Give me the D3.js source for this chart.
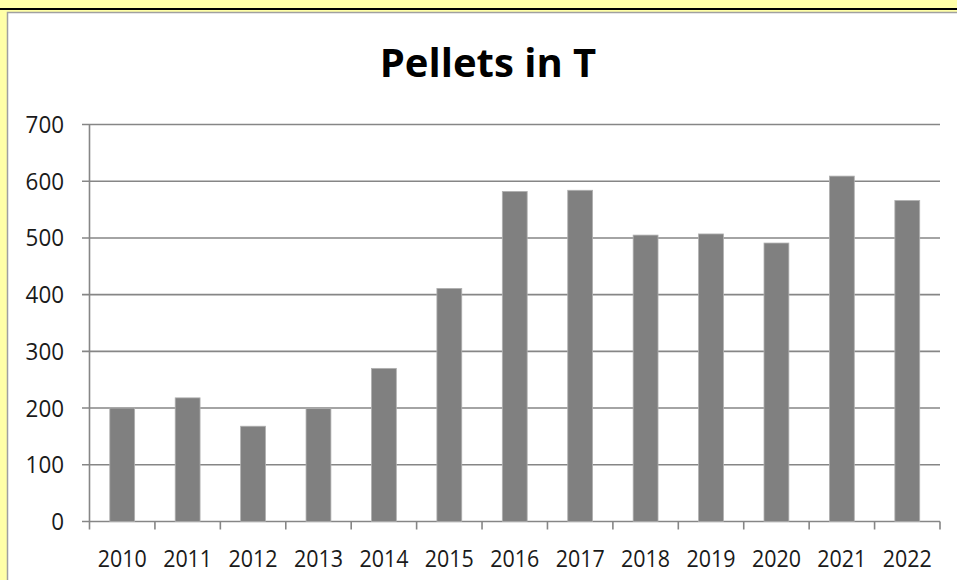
<!DOCTYPE html>
<html>
<head>
<meta charset="utf-8">
<script src="https://cdn.jsdelivr.net/npm/d3@7/dist/d3.min.js"></script>
<style>
  html, body { margin: 0; padding: 0; background: #ffffa8; }
  svg { display: block; }
</style>
</head>
<body>
<svg id="chart" width="957" height="580"></svg>
<script>
const years = ["2010","2011","2012","2013","2014","2015","2016","2017","2018","2019","2020","2021","2022"];
const values = [200, 218, 168, 199, 270, 411, 582, 584, 505, 507, 491, 609, 566];
const yTicks = [0, 100, 200, 300, 400, 500, 600, 700];
const title = "Pellets in T";

(function () {
const svg = d3.select("#chart");
const W = 957, H = 580;

// background
svg.append("rect").attr("x", 0).attr("y", 0).attr("width", W).attr("height", H).attr("fill", "#ffffa8");
svg.append("rect").attr("x", 0).attr("y", 8).attr("width", W).attr("height", 2).attr("fill", "#000");
svg.append("rect").attr("x", 7.5).attr("y", 12.5).attr("width", W).attr("height", H)
  .attr("fill", "#fff").attr("stroke", "#a0a0a0").attr("stroke-width", 1.5);

const pL = 89.5, pR = 940, pT = 124.5, pB = 521.5;

const x = d3.scaleBand().domain(years).range([pL, pR]).paddingInner(0.62).paddingOuter(0.31);
const xb = d3.scaleBand().domain(years).range([pL, pR]);
const y = d3.scaleLinear().domain([0, 700]).range([pB, pT]);

const gridColor = "#868686";

// gridlines
svg.append("g").selectAll("line").data(yTicks).join("line")
  .attr("x1", 82).attr("x2", pR)
  .attr("y1", d => y(d)).attr("y2", d => y(d))
  .attr("stroke", gridColor).attr("stroke-width", 1.6);

// y axis line
svg.append("line").attr("x1", pL).attr("x2", pL).attr("y1", pT).attr("y2", pB + 8)
  .attr("stroke", gridColor).attr("stroke-width", 1.6);

// x ticks at band boundaries
const boundaries = years.map(d => xb(d)).concat([pR]);
svg.append("g").selectAll("line").data(boundaries.slice(1)).join("line")
  .attr("x1", d => d).attr("x2", d => d)
  .attr("y1", pB).attr("y2", pB + 8)
  .attr("stroke", gridColor).attr("stroke-width", 1.6);

// bars
svg.append("g").selectAll("rect").data(values).join("rect")
  .attr("x", (d, i) => x(years[i]))
  .attr("width", x.bandwidth())
  .attr("y", d => y(d))
  .attr("height", d => y(0) - y(d))
  .attr("fill", "#808080")
  .attr("stroke", "#b0b0b0").attr("stroke-width", 0.8);

// y labels
svg.append("g").selectAll("text").data(yTicks).join("text")
  .attr("x", 64).attr("y", d => y(d))
  .attr("dy", "0.36em")
  .attr("text-anchor", "end")
  .attr("font-family", "Open Sans, sans-serif")
  .attr("font-size", 23.5)
  .attr("fill", "#1a1a1a")
  .attr("textLength", d => String(d).length * 12.8)
  .attr("lengthAdjust", "spacingAndGlyphs")
  .text(d => d);

// x labels
svg.append("g").selectAll("text").data(years).join("text")
  .attr("x", d => xb(d) + xb.bandwidth() / 2)
  .attr("y", 566.5)
  .attr("text-anchor", "middle")
  .attr("font-family", "Open Sans, sans-serif")
  .attr("font-size", 23.5)
  .attr("fill", "#1a1a1a")
  .attr("textLength", 49)
  .attr("lengthAdjust", "spacingAndGlyphs")
  .text(d => d);

// title
svg.append("text")
  .attr("x", 488).attr("y", 77)
  .attr("text-anchor", "middle")
  .attr("font-family", "Open Sans, sans-serif")
  .attr("font-weight", "bold")
  .attr("font-size", 40)
  .attr("fill", "#000")
  .text(title);
})();
</script>
</body>
</html>
